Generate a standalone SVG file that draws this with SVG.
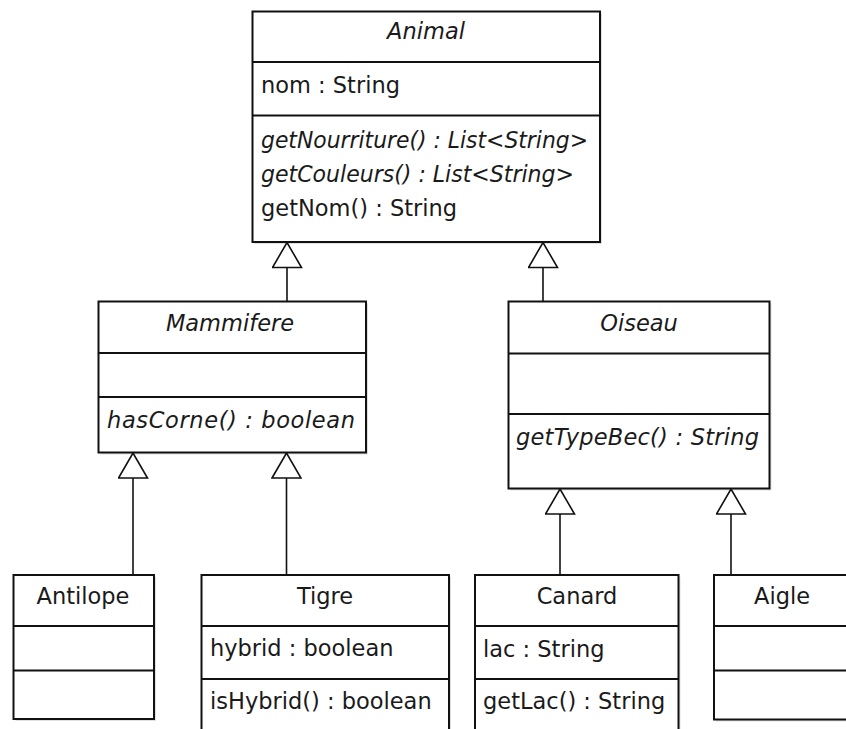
<svg xmlns="http://www.w3.org/2000/svg" width="846" height="729" viewBox="0 0 846 729">
  <style>
    .box { fill: #ffffff; stroke: #111111; stroke-width: 2; }
    .shadow { fill: #000000; opacity: 0.12; }
    .div { stroke: #111111; stroke-width: 2; fill: none; }
    .t { font-family: "DejaVu Sans", "Liberation Sans", sans-serif; font-size: 22.5px; fill: #1a1a1a; }
    .i { font-style: italic; }
    .c { text-anchor: middle; }
    .edge { stroke: #111111; stroke-width: 1.6; fill: none; marker-end: url(#gen); }
  </style>
  <defs>
    <marker id="gen" viewBox="-1 -1 27 31" refX="25" refY="14.5" markerWidth="27" markerHeight="31" markerUnits="userSpaceOnUse" orient="auto">
      <path d="M0,0 L25,14.5 L0,29 Z" fill="#ffffff" stroke="#111111" stroke-width="1.6"/>
    </marker>
  </defs>
  <rect width="846" height="729" fill="#ffffff"/>

  <g id="Animal">
    <rect class="shadow" x="254.5" y="13.5" width="347.5" height="230.5"/>
    <rect class="box" x="252.5" y="11.5" width="347.5" height="230.5"/>
    <line class="div" x1="252.5" y1="62" x2="600" y2="62"/>
    <line class="div" x1="252.5" y1="115.5" x2="600" y2="115.5"/>
    <text class="t i c" x="426" y="39">Animal</text>
    <text class="t" x="261" y="93">nom : String</text>
    <text class="t i" x="261" y="148" textLength="327" lengthAdjust="spacingAndGlyphs">getNourriture() : List&lt;String&gt;</text>
    <text class="t i" x="261" y="182" textLength="313" lengthAdjust="spacingAndGlyphs">getCouleurs() : List&lt;String&gt;</text>
    <text class="t" x="261" y="216">getNom() : String</text>
  </g>

  <g id="Mammifere">
    <rect class="shadow" x="100.5" y="303.5" width="267.5" height="151"/>
    <rect class="box" x="98.5" y="301.5" width="267.5" height="151"/>
    <line class="div" x1="98.5" y1="353" x2="366" y2="353"/>
    <line class="div" x1="98.5" y1="397" x2="366" y2="397"/>
    <text class="t i c" x="230" y="331">Mammifere</text>
    <text class="t i" x="107" y="428" textLength="248" lengthAdjust="spacing">hasCorne() : boolean</text>
  </g>

  <g id="Oiseau">
    <rect class="shadow" x="510.5" y="303.5" width="261" height="187"/>
    <rect class="box" x="508.5" y="301.5" width="261" height="187"/>
    <line class="div" x1="508.5" y1="353.5" x2="769.5" y2="353.5"/>
    <line class="div" x1="508.5" y1="414" x2="769.5" y2="414"/>
    <text class="t i c" x="639" y="331">Oiseau</text>
    <text class="t i" x="516" y="445" textLength="243" lengthAdjust="spacing">getTypeBec() : String</text>
  </g>

  <g id="Antilope">
    <rect class="shadow" x="15.5" y="577" width="140.5" height="144"/>
    <rect class="box" x="13.5" y="575" width="140.5" height="144"/>
    <line class="div" x1="13.5" y1="626" x2="154" y2="626"/>
    <line class="div" x1="13.5" y1="670.5" x2="154" y2="670.5"/>
    <text class="t c" x="83" y="604">Antilope</text>
  </g>

  <g id="Tigre">
    <rect class="shadow" x="203.5" y="577" width="247.5" height="165"/>
    <rect class="box" x="201.5" y="575" width="247.5" height="165"/>
    <line class="div" x1="201.5" y1="626" x2="449" y2="626"/>
    <line class="div" x1="201.5" y1="679" x2="449" y2="679"/>
    <text class="t c" x="325" y="604">Tigre</text>
    <text class="t" x="210" y="656">hybrid : boolean</text>
    <text class="t" x="210" y="708.5">isHybrid() : boolean</text>
  </g>

  <g id="Canard">
    <rect class="shadow" x="477" y="577" width="203.5" height="165"/>
    <rect class="box" x="475" y="575" width="203.5" height="165"/>
    <line class="div" x1="475" y1="626" x2="678.5" y2="626"/>
    <line class="div" x1="475" y1="679" x2="678.5" y2="679"/>
    <text class="t c" x="577" y="604">Canard</text>
    <text class="t" x="483" y="657">lac : String</text>
    <text class="t" x="483" y="709">getLac() : String</text>
  </g>

  <g id="Aigle">
    <rect class="shadow" x="716" y="577" width="135" height="144.5"/>
    <rect class="box" x="714" y="575" width="135" height="144.5"/>
    <line class="div" x1="714" y1="626" x2="849" y2="626"/>
    <line class="div" x1="714" y1="670.5" x2="849" y2="670.5"/>
    <text class="t c" x="782" y="604">Aigle</text>
  </g>

  <g id="connectors">
    <path class="edge" d="M287,301.5 L287,242.5"/>
    <path class="edge" d="M543,301.5 L543,242.5"/>
    <path class="edge" d="M133,575 L133,453"/>
    <path class="edge" d="M286.5,575 L286.5,453"/>
    <path class="edge" d="M560,575 L560,489"/>
    <path class="edge" d="M731,575 L731,489"/>
  </g>
</svg>
